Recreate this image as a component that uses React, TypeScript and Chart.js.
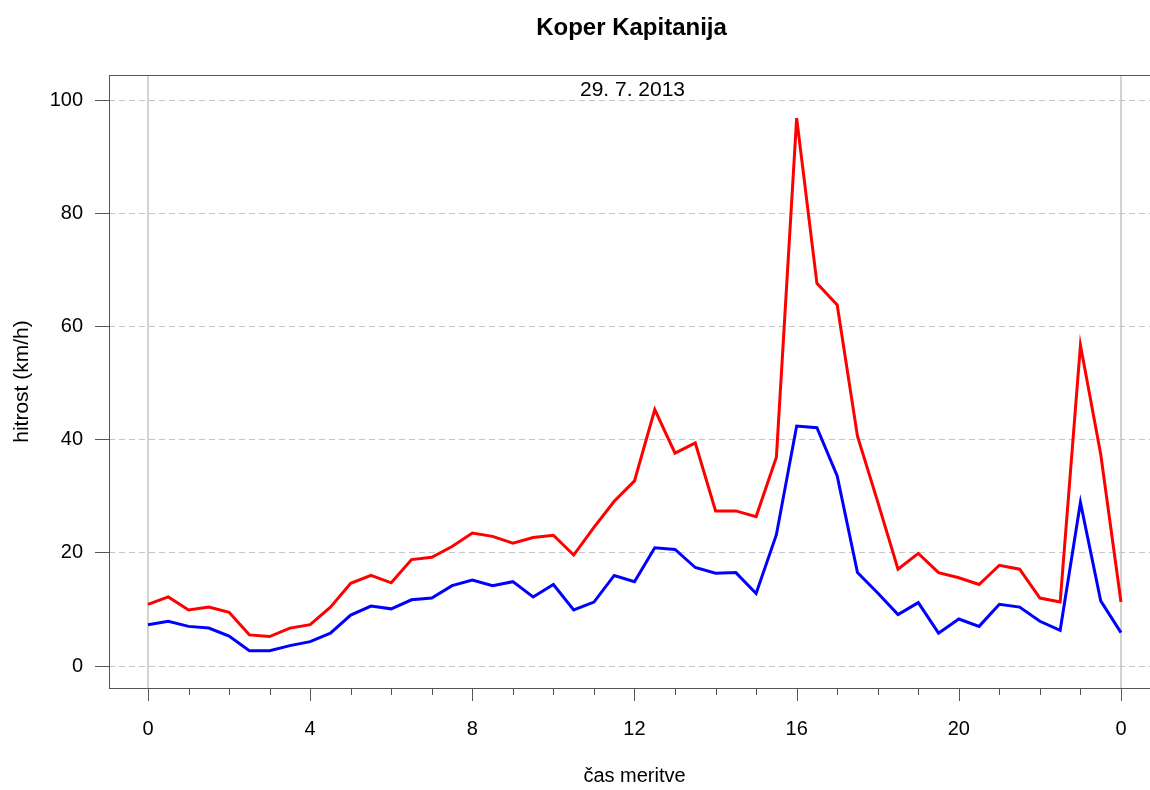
import React, { useEffect, useRef } from "react";
import { Chart, registerables } from "chart.js";

Chart.register(...registerables);

const times = [
  0, 0.5, 1, 1.5, 2, 2.5, 3, 3.5, 4, 4.5, 5, 5.5, 6, 6.5, 7, 7.5, 8, 8.5, 9, 9.5,
  10, 10.5, 11, 11.5, 12, 12.5, 13, 13.5, 14, 14.5, 15, 15.5, 16, 16.5, 17, 17.5,
  18, 18.5, 19, 19.5, 20, 20.5, 21, 21.5, 22, 22.5, 23, 23.5, 24,
];

const maxSpeed = [
  10.9, 12.2, 9.9, 10.4, 9.5, 5.5, 5.2, 6.7, 7.3, 10.4, 14.6, 16.0, 14.7, 18.8, 19.2, 21.1,
  23.5, 22.9, 21.7, 22.7, 23.1, 19.6, 24.5, 29.1, 32.7, 45.3, 37.6, 39.4, 27.4, 27.4, 26.4,
  36.9, 96.8, 67.6, 63.8, 40.6, 29.0, 17.1, 19.9, 16.5, 15.6, 14.4, 17.8, 17.1, 12.0, 11.3,
  56.7, 37.4, 11.3,
];

const avgSpeed = [
  7.3, 7.9, 7.0, 6.7, 5.3, 2.7, 2.7, 3.6, 4.3, 5.8, 9.0, 10.6, 10.1, 11.7, 12.0, 14.2, 15.2,
  14.2, 14.9, 12.2, 14.4, 9.9, 11.3, 16.0, 14.9, 20.9, 20.6, 17.4, 16.4, 16.5, 12.8, 23.2,
  42.4, 42.1, 33.6, 16.5, 12.9, 9.1, 11.2, 5.8, 8.3, 7.0, 10.9, 10.4, 7.9, 6.3, 28.9, 11.5, 5.9,
];

const yTicks = [0, 20, 40, 60, 80, 100];
const xTicks = [0, 1, 2, 3, 4, 5, 6, 7, 8, 9, 10, 11, 12, 13, 14, 15, 16, 17, 18, 19, 20, 21, 22, 23, 24];
const xMajor = [0, 4, 8, 12, 16, 20, 24];
const xTickLabels = ["0", "4", "8", "12", "16", "20", "0"];

const titleText = "Koper Kapitanija";
const subtitleText = "29. 7. 2013";
const xTitle = "čas meritve";
const yTitle = "hitrost (km/h)";

const FONT = "'Liberation Sans', Arial, Helvetica, sans-serif";
const AXIS_COLOR = "#555555";

export default function App() {
  const ref = useRef<HTMLCanvasElement | null>(null);

  useEffect(() => {
    const canvas = ref.current;
    if (!canvas) return;

    const decor = {
      id: "rdecor",
      afterDraw(chart: any) {
        const ctx = chart.ctx;
        const ca = chart.chartArea;
        const xs = chart.scales.x;
        ctx.save();
        // box
        ctx.strokeStyle = AXIS_COLOR;
        ctx.lineWidth = 1;
        ctx.strokeRect(Math.round(ca.left) + 0.5, Math.round(ca.top) + 0.5, ca.right - ca.left, ca.bottom - ca.top);
        // x tick marks
        xTicks.forEach((t) => {
          const px = Math.round(xs.getPixelForValue(t)) + 0.5;
          const len = xMajor.includes(t) ? 13 : 7;
          ctx.beginPath();
          ctx.moveTo(px, ca.bottom);
          ctx.lineTo(px, ca.bottom + len);
          ctx.stroke();
        });
        ctx.fillStyle = "#000";
        const cx = (ca.left + 1150) / 2;
        // title
        ctx.font = `bold 24px ${FONT}`;
        ctx.textAlign = "center";
        ctx.textBaseline = "alphabetic";
        ctx.fillText(titleText, cx + 2, 35);
        // subtitle
        ctx.font = `21px ${FONT}`;
        ctx.fillText(subtitleText, cx + 3, 96);
        // x title
        ctx.font = `20px ${FONT}`;
        ctx.fillText(xTitle, cx + 5, 782);
        // y title
        ctx.font = `21px ${FONT}`;
        ctx.translate(28, (ca.top + ca.bottom) / 2);
        ctx.rotate(-Math.PI / 2);
        ctx.fillText(yTitle, 0, 0);
        ctx.restore();
      },
    };

    const chart = new Chart(canvas, {
      type: "line",
      data: {
        datasets: [
          {
            label: "max",
            data: times.map((t, i) => ({ x: t, y: maxSpeed[i] })),
            borderColor: "#ff0000",
            backgroundColor: "#ff0000",
            borderWidth: 3,
            pointRadius: 0,
            tension: 0,
          },
          {
            label: "avg",
            data: times.map((t, i) => ({ x: t, y: avgSpeed[i] })),
            borderColor: "#0000ff",
            backgroundColor: "#0000ff",
            borderWidth: 3,
            pointRadius: 0,
            tension: 0,
          },
        ],
      },
      options: {
        responsive: false,
        animation: false,
        devicePixelRatio: 1,
        layout: { padding: { top: 75, right: 8, left: 0, bottom: 0 } },
        plugins: {
          legend: { display: false },
          tooltip: { enabled: false },
          title: { display: false },
        },
        scales: {
          x: {
            type: "linear",
            min: -0.962,
            max: 24.765,
            afterBuildTicks: (scale: any) => {
              scale.ticks = xMajor.map((v) => ({ value: v }));
            },
            afterFit: (scale: any) => {
              scale.height = 102;
            },
            ticks: {
              autoSkip: false,
              maxRotation: 0,
              padding: 29,
              color: "#000",
              font: { family: FONT, size: 20 },
              callback: (v: any) => {
                const i = xMajor.indexOf(Number(v));
                return i >= 0 ? xTickLabels[i] : "";
              },
            },
            grid: {
              drawTicks: false,
              lineWidth: 2,
              color: (c: any) =>
                c.tick && (c.tick.value === 0 || c.tick.value === 24) ? "#d3d3d3" : "rgba(0,0,0,0)",
            },
            border: { display: false },
          },
          y: {
            type: "linear",
            min: -3.887,
            max: 104.42,
            afterBuildTicks: (scale: any) => {
              scale.ticks = yTicks.map((v) => ({ value: v }));
            },
            afterFit: (scale: any) => {
              scale.width = 109;
            },
            ticks: {
              padding: 12,
              color: "#000",
              font: { family: FONT, size: 20 },
            },
            grid: {
              color: "#c4c4c4",
              lineWidth: 1,
              drawTicks: true,
              tickLength: 14,
              tickColor: AXIS_COLOR,
              tickWidth: 1,
              tickBorderDash: [],
            },
            border: { display: false, dash: [6, 4] },
          },
        },
      },
      plugins: [decor],
    });

    return () => chart.destroy();
  }, []);

  return (
    <div style={{ position: "absolute", left: 0, top: 0, width: 1150, height: 790, overflow: "hidden", background: "#fff" }}>
      <canvas ref={ref} width={1160} height={790} style={{ display: "block" }} />
    </div>
  );
}
